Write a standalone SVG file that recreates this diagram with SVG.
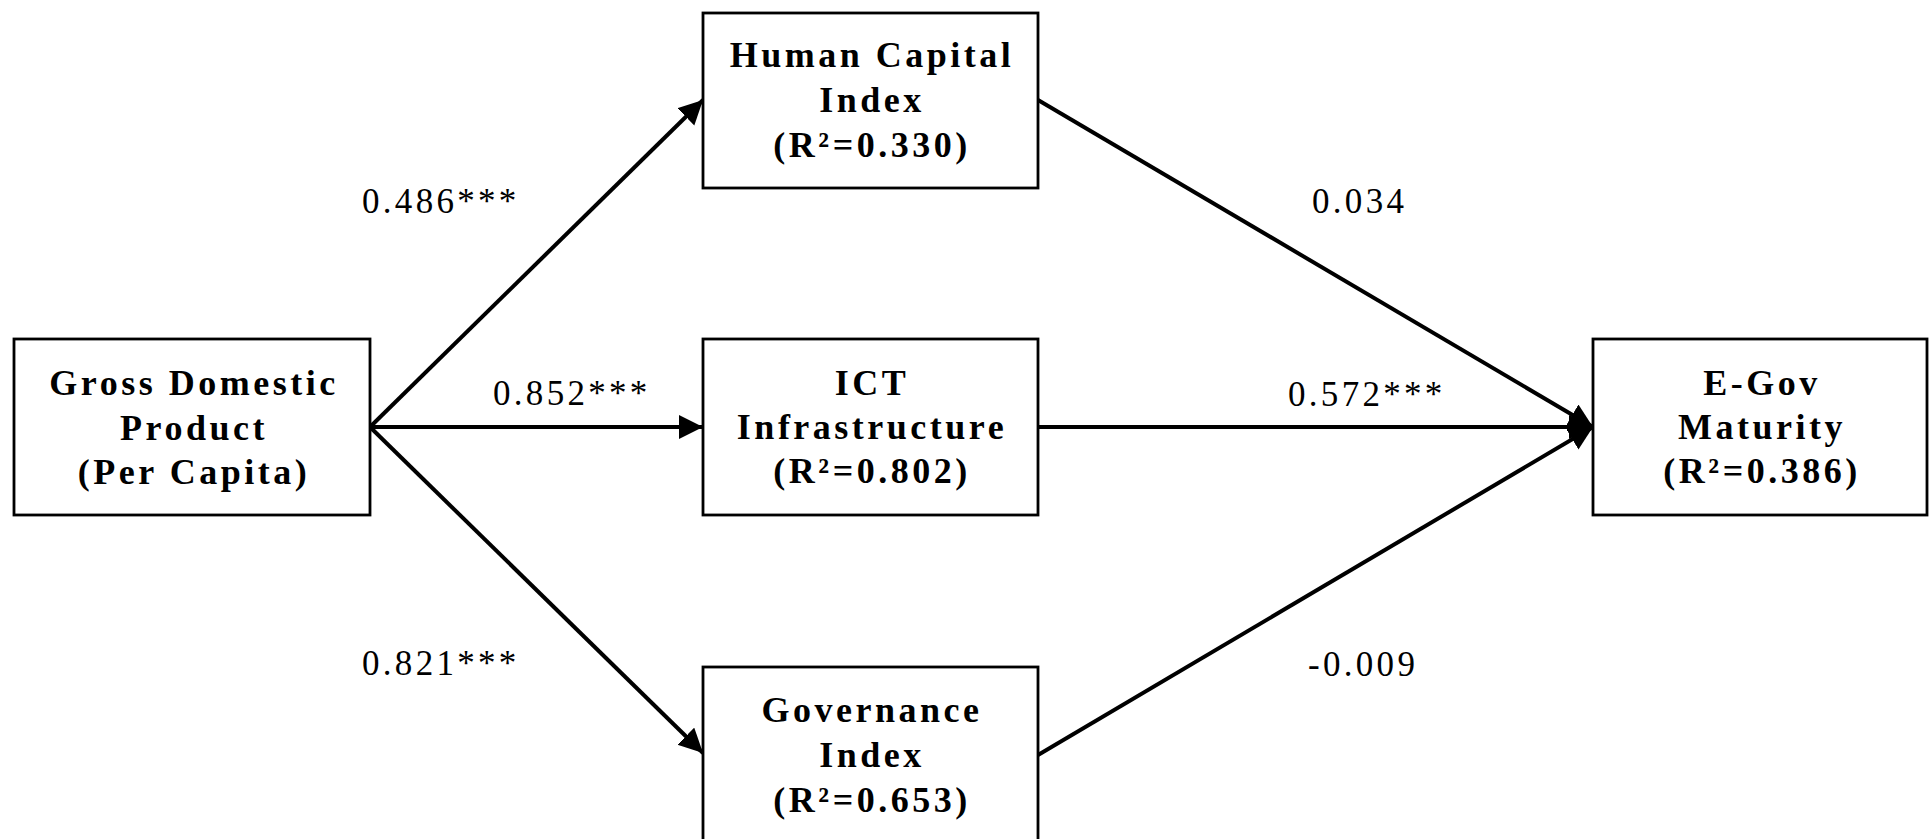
<svg xmlns="http://www.w3.org/2000/svg" width="1929" height="839" viewBox="0 0 1929 839">
<style>
.box{fill:#fff;stroke:#000;stroke-width:2.8}
.nt{font-family:"Liberation Serif","Times New Roman",serif;font-weight:bold;font-size:36px;letter-spacing:3.5px;text-anchor:middle;fill:#000}
.lb{font-family:"Liberation Serif","Times New Roman",serif;font-size:35px;letter-spacing:3.3px;fill:#000}
.ed{stroke:#000;stroke-width:4;fill:none;marker-end:url(#ah)}
</style>
<defs>
<marker id="ah" markerUnits="userSpaceOnUse" markerWidth="26" markerHeight="26" refX="24" refY="12" orient="auto">
<path d="M0,0 L24,12 L0,24 z" fill="#000"/>
</marker>
</defs>
<rect width="1929" height="839" fill="#fff"/>
<g id="connectors">
<line class="ed" x1="370" y1="427" x2="703" y2="100"/>
<line class="ed" x1="370" y1="427" x2="703" y2="427"/>
<line class="ed" x1="370" y1="427" x2="703" y2="753"/>
<line class="ed" x1="1038" y1="100" x2="1593" y2="427"/>
<line class="ed" x1="1038" y1="427" x2="1593" y2="427"/>
<line class="ed" x1="1038" y1="755" x2="1593" y2="427"/>
<text class="lb" x="362" y="213">0.486***</text>
<text class="lb" x="493" y="405">0.852***</text>
<text class="lb" x="362" y="675">0.821***</text>
<text class="lb" x="1312" y="213">0.034</text>
<text class="lb" x="1288" y="406">0.572***</text>
<text class="lb" x="1308" y="676">-0.009</text>
</g>
<g id="gdp">
<rect class="box" x="14" y="339" width="356" height="176"/>
<text class="nt" x="194" y="395">Gross Domestic</text>
<text class="nt" x="194" y="440">Product</text>
<text class="nt" x="194" y="484">(Per Capita)</text>
</g>
<g id="hci">
<rect class="box" x="703" y="13" width="335" height="175"/>
<text class="nt" x="872" y="67">Human Capital</text>
<text class="nt" x="872" y="112">Index</text>
<text class="nt" x="872" y="157">(R²=0.330)</text>
</g>
<g id="ict">
<rect class="box" x="703" y="339" width="335" height="176"/>
<text class="nt" x="872" y="395">ICT</text>
<text class="nt" x="872" y="439">Infrastructure</text>
<text class="nt" x="872" y="483">(R²=0.802)</text>
</g>
<g id="gov">
<rect class="box" x="703" y="667" width="335" height="190"/>
<text class="nt" x="872" y="722">Governance</text>
<text class="nt" x="872" y="767">Index</text>
<text class="nt" x="872" y="812">(R²=0.653)</text>
</g>
<g id="egov">
<rect class="box" x="1593" y="339" width="334" height="176"/>
<text class="nt" x="1762" y="395">E-Gov</text>
<text class="nt" x="1762" y="439">Maturity</text>
<text class="nt" x="1762" y="483">(R²=0.386)</text>
</g>
</svg>
